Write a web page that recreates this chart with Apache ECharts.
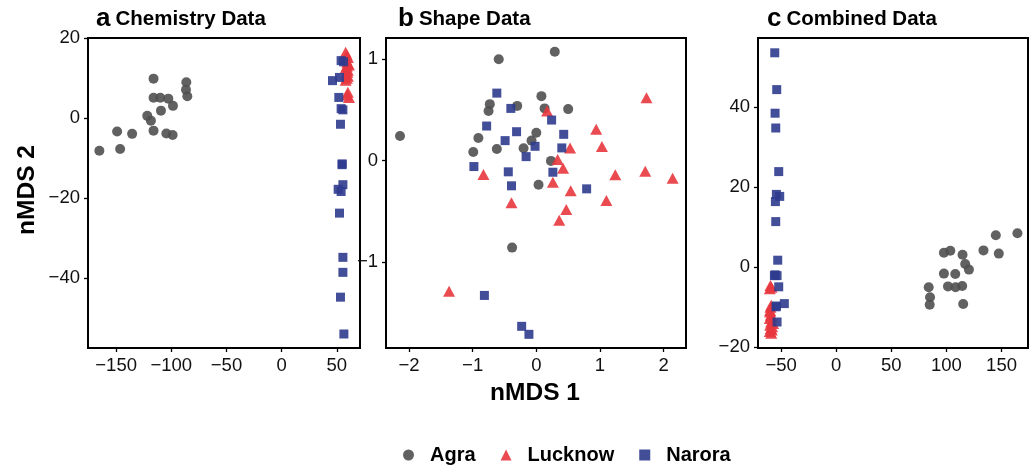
<!DOCTYPE html>
<html><head><meta charset="utf-8">
<script src="https://cdn.jsdelivr.net/npm/echarts@6/dist/echarts.min.js"></script>
<style>html,body{margin:0;padding:0;background:#fff}#c{width:1033px;height:466px}</style>
</head><body><div id="c"></div>
<script>
// ---------- data ----------
const groups = ['Agra', 'Lucknow', 'Narora'];

// Panel a: Chemistry Data
const chemAgra = [[-165.2,-8.1],[-146.4,-7.7],[-149.1,-3.3],[-135.5,-3.9],[-116.1,9.9],[-116.1,5.1],[-110,5.1],[-102.7,4.9],[-98.5,3.1],[-109.4,1.9],[-121.8,0.6],[-118.5,-0.6],[-116.1,-3.1],[-104.5,-3.8],[-98.8,-4.2],[-86.4,9.0],[-86.7,7.1],[-85.5,5.5]];
const chemLucknow = [[58,16.5],[59,15.8],[60,15.2],[58.5,14.6],[59.5,14.0],[60,13.5],[59,13.0],[58,12.5],[60,12.0],[59.5,11.5],[58.5,11.0],[60,10.5],[59,10.0],[58,9.5],[61,13.3],[60,6.5],[59.5,5.8],[61,5.2]];
const chemNarora = [[53.9,14.4],[56.1,14.1],[52.4,10.2],[46.1,9.4],[51.8,5.2],[53.9,2.4],[55.5,2.1],[53.3,-1.5],[54.8,-11.4],[54.8,-11.6],[55.5,-16.6],[51.2,-17.75],[53.9,-18.3],[52.4,-23.7],[55.5,-34.75],[55.5,-38.5],[53.3,-44.7],[56.4,-53.9]];

// Panel b: Shape Data
const shapeAgra = [[-2.14,0.243],[-0.59,1.0],[0.29,1.075],[-0.73,0.557],[-0.75,0.49],[-0.30,0.54],[0.08,0.636],[0.13,0.515],[0.50,0.508],[-0.91,0.223],[-0.99,0.085],[-0.62,0.115],[0.0,0.275],[-0.075,0.197],[-0.20,0.121],[0.23,-0.003],[0.035,-0.239],[-0.38,-0.859]];
const shapeLucknow = [[0.17,0.49],[1.73,0.62],[0.94,0.31],[1.03,0.14],[0.53,0.125],[0.335,0.01],[0.42,-0.075],[-0.83,-0.138],[1.24,-0.141],[1.71,-0.105],[2.14,-0.174],[0.26,-0.213],[0.54,-0.298],[-0.39,-0.416],[1.10,-0.393],[0.47,-0.482],[0.36,-0.59],[-1.37,-1.289]];
const shapeNarora = [[-0.62,0.666],[-0.40,0.515],[-0.78,0.341],[-0.31,0.285],[-0.49,0.197],[0.24,0.40],[0.43,0.259],[-0.02,0.141],[-0.16,0.039],[0.40,0.125],[-0.98,-0.059],[-0.44,-0.111],[0.26,-0.115],[-0.39,-0.249],[0.79,-0.279],[-0.815,-1.331],[-0.23,-1.636],[-0.116,-1.715]];

// Panel c: Combined Data
const combAgra = [[83.9,-5.1],[85.1,-7.6],[84.8,-9.5],[97.7,-1.7],[97.7,3.5],[103.5,4.0],[101.4,-4.9],[108.0,-1.8],[108.3,-5.1],[114.6,3.0],[117.0,0.7],[120.4,-0.7],[114.3,-4.8],[115.2,-9.3],[133.6,4.1],[144.8,7.9],[147.5,3.3],[164.4,8.4]];
const combLucknow = [[-59.7,-4.7],[-60.3,-5.5],[-59.0,-9.6],[-60.0,-10.9],[-59.4,-12.1],[-60.3,-12.9],[-59.0,-13.8],[-60.0,-14.6],[-59.4,-15.4],[-58.5,-15.8],[-60.3,-16.2],[-59.0,-16.6],[-58.8,-12.5],[-60.0,-11.3],[-59.7,-10.1],[-58.2,-15.0],[-58.8,-5.1],[-57.3,-14.2]];
const combNarora = [[-55.8,53.5],[-54.0,44.3],[-55.5,38.4],[-54.9,34.7],[-52.2,23.8],[-54.3,18.1],[-51.3,17.6],[-55.2,16.3],[-54.9,11.3],[-53.1,1.65],[-55.5,-2.0],[-53.7,-2.2],[-56.1,-2.2],[-52.2,-5.0],[-54.3,-9.8],[-54.6,-10.0],[-47.1,-9.2],[-53.7,-13.8]];

// tick labels
const chemXTicks = [-150,-100,-50,0,50];
const chemYTicks = [-40,-20,0,20];
const shapeXTicks = [-2,-1,0,1,2];
const shapeYTicks = [-1,0,1];
const combXTicks = [-50,0,50,100,150];
const combYTicks = [-20,0,20,40];

const panelTitles = [['a','Chemistry Data'],['b','Shape Data'],['c','Combined Data']];
const xLabel = 'nMDS 1';
const yLabel = 'nMDS 2';

// ---------- chart ----------
const FONT = 'Liberation Sans, Arial, sans-serif';
const colors = {Agra:'#505050', Lucknow:'#e8373e', Narora:'#2f3b8e'};
const symbols = {Agra:'circle', Lucknow:'triangle', Narora:'rect'};
const sizes = {Agra:10, Lucknow:[12,11], Narora:9};

const panelData = [
  {Agra:chemAgra, Lucknow:chemLucknow, Narora:chemNarora, xt:chemXTicks, yt:chemYTicks, xr:[-175.5,71], yr:[-57.4,20.05]},
  {Agra:shapeAgra, Lucknow:shapeLucknow, Narora:shapeNarora, xt:shapeXTicks, yt:shapeYTicks, xr:[-2.36,2.35], yr:[-1.85,1.21]},
  {Agra:combAgra, Lucknow:combLucknow, Narora:combNarora, xt:combXTicks, yt:combYTicks, xr:[-71,174], yr:[-20.3,57.2]}
];
const grids = [
  {left:88, top:38, width:272, height:310},
  {left:386, top:38, width:300, height:310},
  {left:758, top:38, width:270, height:310}
];
const titleLeft = [91, 393, 762];

const fmt = v => String(v).replace('-', '\u2212');

function axis(idx, ticks, range, isX) {
  return {
    type:'value', gridIndex:idx, min:range[0], max:range[1],
    axisLine:{show:false, onZero:false}, splitLine:{show:false},
    axisTick:{show:true, length:4, customValues:ticks, lineStyle:{color:'#000', width:1.3}},
    axisLabel:{customValues:ticks, formatter:fmt, color:'#111', fontSize:18.5, fontFamily:FONT, margin:8}
  };
}

const series = [];
panelData.forEach((p, i) => {
  groups.forEach(g => {
    series.push({
      type:'scatter', name:g, xAxisIndex:i, yAxisIndex:i,
      data:p[g], symbol:symbols[g], symbolSize:sizes[g],
      itemStyle:{color:colors[g], opacity:0.9},
      emphasis:{disabled:true}, silent:true
    });
  });
});

const option = {
  animation:false,
  backgroundColor:'#fff',
  grid: grids.map(gr => Object.assign({show:true, borderColor:'#000', borderWidth:2, backgroundColor:'#fff'}, gr)),
  xAxis: panelData.map((p,i) => axis(i, p.xt, p.xr, true)),
  yAxis: panelData.map((p,i) => axis(i, p.yt, p.yr, false)),
  title: panelTitles.map((t,i) => ({
    text:'{l|' + t[0] + '} {t|' + t[1] + '}', left:titleLeft[i], top:1,
    textStyle:{rich:{
      l:{fontSize:26, fontWeight:'bold', fontFamily:FONT, color:'#000'},
      t:{fontSize:20.5, fontWeight:'bold', fontFamily:FONT, color:'#000'}
    }}
  })),
  legend:{
    left:398, top:440, itemGap:25, itemWidth:11, itemHeight:11,
    data:[{name:'Agra', icon:'circle'},{name:'Lucknow', icon:'triangle'},{name:'Narora', icon:'rect'}],
    textStyle:{fontSize:20, fontWeight:'bold', fontFamily:FONT, color:'#000', padding:[0,0,0,11]},
    selectedMode:false
  },
  graphic:[
    {type:'text', x:535, y:393, style:{text:xLabel, align:'center', verticalAlign:'middle', font:'bold 24.5px ' + FONT, fill:'#000'}},
    {type:'text', x:27, y:190, rotation:Math.PI/2, style:{text:yLabel, align:'center', verticalAlign:'middle', font:'bold 24.5px ' + FONT, fill:'#000'}}
  ],
  series
};
const chart = echarts.init(document.getElementById('c'), null, {renderer:'canvas'});
chart.setOption(option);
</script>
</body></html>
